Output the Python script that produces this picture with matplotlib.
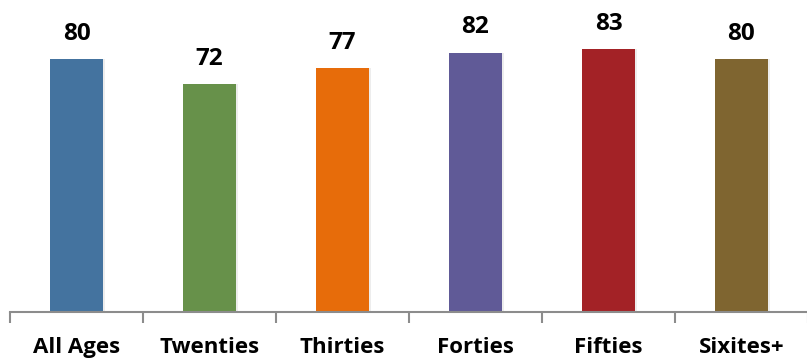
import matplotlib
matplotlib.use("Agg")
import matplotlib.pyplot as plt
import numpy as np

categories = ["All Ages", "Twenties", "Thirties", "Forties", "Fifties", "Sixites+"]
values = [80, 72, 77, 82, 83, 80]
colors = ["#44739F", "#67914A", "#E76C0A", "#605A97", "#A32226", "#7F6530"]

plt.rcParams['font.family'] = ['Open Sans', 'DejaVu Sans']

fig = plt.figure(figsize=(8.07, 3.6), dpi=100)
ax = fig.add_axes([10/807, 48/360, 798/807, 310/360])

x = np.arange(len(categories))
# subtle shadow
ax.bar(x + 0.015, values, width=0.405, color="#000000", alpha=0.07, zorder=1)
bars = ax.bar(x, values, width=0.405, color=colors, zorder=2)

for xi, v in zip(x, values):
    ax.text(xi, v + 8.0, str(v), ha="center", va="center", fontsize=17.5,
            fontweight="bold", color="#000000")

ax.set_xlim(-0.5, len(categories) - 0.5)
ax.set_ylim(0, 98)
ax.set_yticks([])
for s in ["top", "right", "left"]:
    ax.spines[s].set_visible(False)
ax.spines["bottom"].set_color("#8C8C8C")
ax.spines["bottom"].set_linewidth(1.5)

ax.set_xticks(np.arange(-0.5, len(categories), 1.0))
ax.set_xticklabels([])
ax.tick_params(axis="x", length=8, width=1.5, color="#8C8C8C", direction="out")
ax.set_xticks(x, minor=True)
ax.set_xticklabels(categories, minor=True, fontsize=16, fontweight="bold")
ax.tick_params(axis="x", which="minor", length=0, pad=18)

fig.savefig("out.png", dpi=100)
